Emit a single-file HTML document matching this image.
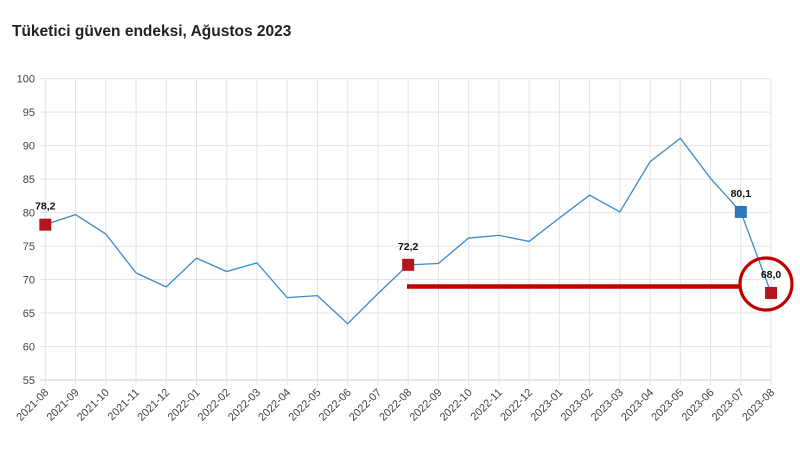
<!DOCTYPE html>
<html><head><meta charset="utf-8"><style>
body{margin:0;background:#fff;}
svg{display:block;font-family:"Liberation Sans",sans-serif;}
</style></head><body>
<svg width="800" height="475" viewBox="0 0 800 475">
<text x="12" y="36" font-size="15.5" font-weight="bold" fill="#222">Tüketici güven endeksi, Ağustos 2023</text>
<g id="grid" stroke="#e3e3e3" stroke-width="1"></g>
<g id="yl" font-size="11" fill="#444" text-anchor="end"></g>
<g id="xl" font-size="11" fill="#444" text-anchor="end"></g>
<polyline id="ln" fill="none" stroke="#3a8ac8" stroke-width="1.3"></polyline>
<line x1="407" y1="286.5" x2="741" y2="286.5" stroke="#c00000" stroke-width="4.5"/>
<circle cx="766" cy="284" r="26" fill="none" stroke="#c00000" stroke-width="3.2"/>
<g id="mk"></g>
</svg>
<script>
var d=[78.2,79.7,76.8,71.0,68.9,73.2,71.2,72.5,67.3,67.6,63.4,67.9,72.2,72.4,76.2,76.6,75.7,79.2,82.6,80.1,87.6,91.1,85.1,80.1,68.0];
var lab=[];for(var i=0;i<25;i++){var m=(8+i-1)%12+1,y=2021+Math.floor((7+i)/12);lab.push(y+"-"+(m<10?"0":"")+m);}
function X(i){return 45.3+i*30.24;}function Y(v){return 380-(v-55)*6.696;}
var ns="http://www.w3.org/2000/svg";
function el(t,a,p,txt){var e=document.createElementNS(ns,t);for(var k in a)e.setAttribute(k,a[k]);if(txt!=null)e.textContent=txt;document.getElementById(p).appendChild(e);return e;}
for(var v=55;v<=100;v+=5){el("line",{x1:40,x2:771,y1:Y(v),y2:Y(v),stroke:v==55?"#ccc":"#e3e3e3"},"grid");el("text",{x:35,y:Y(v)+4},"yl",v);}
for(var i=0;i<25;i++){el("line",{x1:X(i),x2:X(i),y1:78.7,y2:385,stroke:"#e3e3e3"},"grid");
el("text",{x:X(i)+4,y:393,transform:"rotate(-45 "+(X(i)+4)+" 393)"},"xl",lab[i]);}
document.getElementById("ln").setAttribute("points",d.map(function(v,i){return X(i)+","+Y(v)}).join(" "));
[[0,"#b0161c","78,2"],[12,"#b0161c","72,2"],[23,"#2b79b8","80,1"],[24,"#b0161c","68,0"]].forEach(function(m){
var x=X(m[0]),y=Y(d[m[0]]);el("rect",{x:x-6,y:y-6,width:12,height:12,fill:m[1]},"mk");
el("text",{x:x,y:y-15,"font-size":"10.5","font-weight":"bold","text-anchor":"middle",fill:"#111"},"mk",m[2]);});
</script>
</body></html>
